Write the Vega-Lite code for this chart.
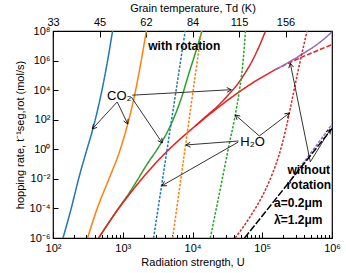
{
  "$schema": "https://vega.github.io/schema/vega-lite/v6.json",
  "width": 279,
  "height": 207,
  "autosize": {"type": "none"},
  "padding": {"left": 53, "top": 31, "right": 14, "bottom": 35},
  "config": {
    "view": {"stroke": "#000", "strokeWidth": 1.2},
    "font": "Liberation Sans",
    "axis": {"domain": false, "grid": false, "labelFont": "Liberation Sans", "labelFontSize": 11, "labelColor": "#000", "titleFont": "Liberation Sans", "titleFontSize": 11, "titleFontWeight": "normal", "titleColor": "#000", "tickColor": "#000", "labelOverlap": false, "labelFlush": false}
  },
  "datasets": {
    "curves": [
      {"s": "b", "U": 139, "r": 1e-6}, {"s": "b", "U": 182.4, "r": 1e-4}, {"s": "b", "U": 232.8, "r": 0.01}, {"s": "b", "U": 306.9, "r": 1}, {"s": "b", "U": 369, "r": 19.95}, {"s": "b", "U": 503.5, "r": 1e4}, {"s": "b", "U": 606.7, "r": 1e6}, {"s": "b", "U": 714.5, "r": 1e8},
      {"s": "o", "U": 313.3, "r": 1e-6}, {"s": "o", "U": 430.5, "r": 1e-4}, {"s": "o", "U": 635.3, "r": 0.01}, {"s": "o", "U": 922.6, "r": 1}, {"s": "o", "U": 1222, "r": 100}, {"s": "o", "U": 1531, "r": 1e4}, {"s": "o", "U": 1841, "r": 1e6}, {"s": "o", "U": 2178, "r": 1e8},
      {"s": "g", "U": 450.8, "r": 1e-6}, {"s": "g", "U": 781.6, "r": 5.012e-5}, {"s": "g", "U": 1259, "r": 0.001259}, {"s": "g", "U": 1660, "r": 0.01}, {"s": "g", "U": 2239, "r": 0.1}, {"s": "g", "U": 3119, "r": 1}, {"s": "g", "U": 4169, "r": 10}, {"s": "g", "U": 5495, "r": 158.5}, {"s": "g", "U": 7079, "r": 3981}, {"s": "g", "U": 8710, "r": 1e5}, {"s": "g", "U": 10965, "r": 3.162e6}, {"s": "g", "U": 13677, "r": 1e8},
      {"s": "r", "U": 10965, "r": 37.5}, {"s": "r", "U": 15849, "r": 177.8}, {"s": "r", "U": 23659, "r": 955}, {"s": "r", "U": 33113, "r": 5248}, {"s": "r", "U": 45814, "r": 31623}, {"s": "r", "U": 57544, "r": 158489}, {"s": "r", "U": 71285, "r": 891251}, {"s": "r", "U": 89125, "r": 7943282}, {"s": "r", "U": 110662, "r": 91201084},
      {"s": "rt", "U": 450.8, "r": 1e-6}, {"s": "rt", "U": 781.6, "r": 4.721e-5}, {"s": "rt", "U": 1514, "r": 0.002884}, {"s": "rt", "U": 2931, "r": 0.1109}, {"s": "rt", "U": 5662, "r": 2.477}, {"s": "rt", "U": 10965, "r": 37.5}, {"s": "rt", "U": 21232, "r": 470.9}, {"s": "rt", "U": 41115, "r": 4989}, {"s": "rt", "U": 79616, "r": 40551}, {"s": "rt", "U": 153815, "r": 242103},
      {"s": "rtd", "U": 153815, "r": 242103}, {"s": "rtd", "U": 297852, "r": 1091440}, {"s": "rtd", "U": 576766, "r": 4149540}, {"s": "rtd", "U": 1000000, "r": 12105981},
      {"s": "p", "U": 153815, "r": 242103}, {"s": "p", "U": 213796, "r": 562341}, {"s": "p", "U": 371535, "r": 2691535}, {"s": "p", "U": 642688, "r": 14791084}, {"s": "p", "U": 946237, "r": 69183097}, {"s": "p", "U": 1000000, "r": 89125094},
      {"s": "bd", "U": 2767, "r": 1e-6}, {"s": "bd", "U": 4325, "r": 1}, {"s": "bd", "U": 7852, "r": 1e8},
      {"s": "od", "U": 5188, "r": 1e-6}, {"s": "od", "U": 8318, "r": 8.913}, {"s": "od", "U": 13428, "r": 1e8},
      {"s": "gd", "U": 17989, "r": 1e-6}, {"s": "gd", "U": 26485, "r": 0.007943}, {"s": "gd", "U": 33113, "r": 1.585}, {"s": "gd", "U": 39811, "r": 100}, {"s": "gd", "U": 46774, "r": 7943}, {"s": "gd", "U": 52481, "r": 501187}, {"s": "gd", "U": 57544, "r": 1e8},
      {"s": "rd", "U": 41020, "r": 1e-6}, {"s": "rd", "U": 63096, "r": 1.778e-5}, {"s": "rd", "U": 89125, "r": 2.512e-4}, {"s": "rd", "U": 114815, "r": 0.002512}, {"s": "rd", "U": 141254, "r": 0.02512}, {"s": "rd", "U": 173780, "r": 0.3981}, {"s": "rd", "U": 218776, "r": 25.12}, {"s": "rd", "U": 269153, "r": 2512}, {"s": "rd", "U": 316228, "r": 1e5}, {"s": "rd", "U": 371535, "r": 3162278}, {"s": "rd", "U": 438531, "r": 1e8},
      {"s": "pd", "U": 263027, "r": 0.01}, {"s": "pd", "U": 398107, "r": 0.1413}, {"s": "pd", "U": 630957, "r": 2.512}, {"s": "pd", "U": 1000000, "r": 50.12},
      {"s": "kd", "U": 55719, "r": 1e-6}, {"s": "kd", "U": 1000000, "r": 25.12}
    ],
    "arrows": [
      {"U1": 827.9, "r1": 1549, "U2": 365.6, "r2": 23.44},
      {"U1": 835.6, "r1": 1549, "U2": 1180, "r2": 51.29},
      {"U1": 1327, "r1": 3388, "U2": 3690, "r2": 2.692},
      {"U1": 1371, "r1": 4571, "U2": 35975, "r2": 10715},
      {"U1": 45394, "r1": 3.63, "U2": 8035, "r2": 1.95},
      {"U1": 45394, "r1": 3.09, "U2": 3631, "r2": 0.003388},
      {"U1": 90782, "r1": 7.94, "U2": 41115, "r2": 208.9},
      {"U1": 90782, "r1": 7.94, "U2": 245471, "r2": 281.8},
      {"U1": 488652, "r1": 0.14, "U2": 252348, "r2": 660693},
      {"U1": 488652, "r1": 0.14, "U2": 946237, "r2": 22.4}
    ],
    "plainLabels": [
      {"t": "CO₂", "U": 594.3, "r": 3981},
      {"t": "H₂O", "U": 48417, "r": 3.162}
    ],
    "boldLabels": [
      {"t": "with rotation", "U": 7621, "r": 9.33e6},
      {"t": "without", "U": 464515, "r": 0.0407},
      {"t": "rotation", "U": 464515, "r": 0.00398},
      {"t": "a=0.2μm", "U": 328852, "r": 2.4e-4},
      {"t": "λ̄=1.2μm", "U": 328852, "r": 1.7e-5}
    ]
  },
  "layer": [
    {
      "data": {"name": "curves"},
      "mark": {"type": "line", "clip": true, "interpolate": "monotone"},
      "encoding": {
        "x": {"field": "U", "type": "quantitative", "scale": {"type": "log", "domain": [100, 1000000], "nice": false},
          "axis": {"orient": "bottom", "values": [100, 1000, 10000, 100000, 1000000], "tickSize": -6, "tickWidth": 1, "labelPadding": 10,
            "labelExpr": "'10' + ['⁰','¹','²','³','⁴','⁵','⁶'][round(log(datum.value)/LN10)]",
            "title": "Radiation strength, U", "titlePadding": 3}},
        "y": {"field": "r", "type": "quantitative", "scale": {"type": "log", "domain": [1e-6, 1e8], "nice": false},
          "axis": {"values": [1e-6, 1e-4, 0.01, 1, 100, 10000, 1000000, 100000000], "tickSize": -5, "tickWidth": 1, "labelPadding": 8,
            "labelExpr": "'10' + (datum.value < 0.5 ? '⁻' : '') + ['⁰','¹','²','³','⁴','⁵','⁶','⁷','⁸'][abs(round(log(datum.value)/LN10))]",
            "title": "hopping rate, t⁻¹seg,rot (mol/s)", "titlePadding": 4}},
        "color": {"field": "s", "type": "nominal", "legend": null,
          "scale": {"domain": ["b", "o", "g", "r", "rt", "rtd", "p", "bd", "od", "gd", "rd", "pd", "kd"],
            "range": ["#1f77b4", "#ff7f0e", "#2ca02c", "#d62728", "#f21a1a", "#f21a1a", "#9467bd", "#1f77b4", "#ff7f0e", "#2ca02c", "#d62728", "#9467bd", "#000000"]}},
        "strokeDash": {"field": "s", "type": "nominal", "legend": null,
          "scale": {"domain": ["b", "o", "g", "r", "rt", "rtd", "p", "bd", "od", "gd", "rd", "pd", "kd"],
            "range": [[1, 0], [1, 0], [1, 0], [1, 0], [1, 0], [5, 2], [1, 0], [2.5, 1.5], [2.5, 1.5], [2.5, 1.5], [2.5, 1.5], [3, 1.5], [7, 2]]}},
        "strokeWidth": {"field": "s", "type": "ordinal", "legend": null,
          "scale": {"domain": ["b", "o", "g", "r", "rt", "rtd", "p", "bd", "od", "gd", "rd", "pd", "kd"],
            "range": [1.5, 1.5, 1.5, 1.2, 2.2, 2.2, 1.3, 1.2, 1.2, 1.2, 1.2, 1.2, 1.5]}}
      }
    },
    {
      "data": {"name": "arrows"},
      "mark": {"type": "rule", "color": "#000", "strokeWidth": 0.8},
      "encoding": {
        "x": {"field": "U1", "type": "quantitative",
          "axis": {"orient": "bottom", "values": [200, 300, 400, 500, 600, 700, 800, 900, 2000, 3000, 4000, 5000, 6000, 7000, 8000, 9000, 20000, 30000, 40000, 50000, 60000, 70000, 80000, 90000, 200000, 300000, 400000, 500000, 600000, 700000, 800000, 900000], "tickSize": -3.5, "tickWidth": 1, "labels": false, "title": null}},
        "y": {"field": "r1", "type": "quantitative"},
        "x2": {"field": "U2"},
        "y2": {"field": "r2"}
      }
    },
    {
      "data": {"name": "arrows"},
      "mark": {"type": "point", "shape": "M-0.55,1L0,0L0.55,1", "filled": false, "stroke": "#000", "strokeWidth": 0.8, "size": 80, "opacity": 1,
        "angle": {"expr": "atan2(scale('x', datum.U2) - scale('x', datum.U1), scale('y', datum.r1) - scale('y', datum.r2)) * 180 / PI"}},
      "encoding": {
        "x": {"field": "U2", "type": "quantitative", "axis": null},
        "y": {"field": "r2", "type": "quantitative"}
      }
    },
    {
      "data": {"name": "plainLabels"},
      "mark": {"type": "text", "fontSize": 13, "font": "Liberation Sans", "color": "#000", "align": "left", "baseline": "middle"},
      "encoding": {
        "x": {"field": "U", "type": "quantitative",
          "axis": {"orient": "top", "values": [100, 464.16, 2154.43, 10000, 46415.9, 215443.5], "tickSize": -6, "tickWidth": 1, "labelPadding": 10,
            "labelExpr": "datum.value < 200 ? '33' : datum.value < 1000 ? '45' : datum.value < 5000 ? '62' : datum.value < 20000 ? '84' : datum.value < 100000 ? '115' : '156'",
            "title": "Grain temperature, Td (K)", "titlePadding": 3}},
        "y": {"field": "r", "type": "quantitative"},
        "text": {"field": "t"}
      }
    },
    {
      "data": {"name": "boldLabels"},
      "mark": {"type": "text", "fontSize": 12, "fontWeight": "bold", "font": "Liberation Sans", "color": "#000", "align": "center", "baseline": "middle"},
      "encoding": {
        "x": {"field": "U", "type": "quantitative", "axis": null},
        "y": {"field": "r", "type": "quantitative"},
        "text": {"field": "t"}
      }
    }
  ],
  "resolve": {"axis": {"x": "independent"}}
}
